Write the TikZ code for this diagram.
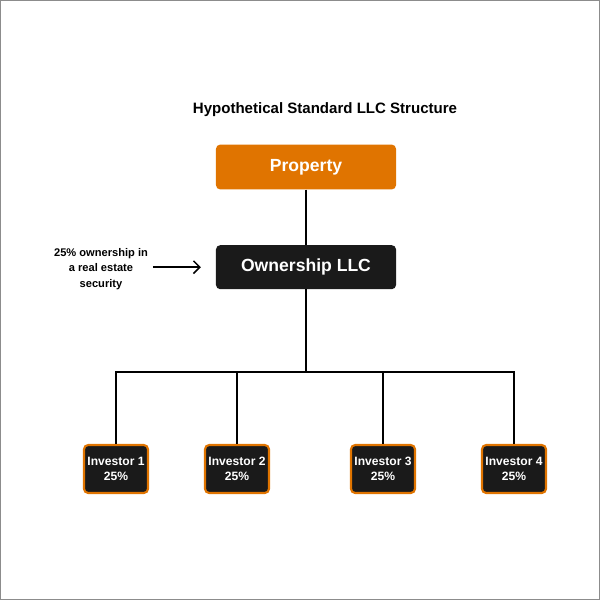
\documentclass[tikz,border=0pt]{standalone}
\usepackage{fontspec}
\setmainfont{Liberation Sans}
\usetikzlibrary{positioning,arrows.meta}
\definecolor{llcorange}{HTML}{E07400}
\definecolor{llcblack}{HTML}{1A1A1A}
\tikzset{>={Straight Barb[length=4.5pt,width=9pt]},
  titletext/.style={font=\fontsize{10.7}{13}\selectfont\bfseries},
  notetext/.style={font=\fontsize{7.9}{10.8}\selectfont\bfseries, align=center},
  propbox/.style={draw=none, fill=llcorange, rounded corners=3pt, minimum width=4.5cm, minimum height=1.12cm, text=white, font=\fontsize{12.5}{15}\selectfont\bfseries},
  llcbox/.style={draw=none, fill=llcblack, rounded corners=3pt, minimum width=4.5cm, minimum height=1.1cm, text=white, font=\fontsize{12.5}{15}\selectfont\bfseries},
  investorbox/.style={draw=llcorange, line width=1.5pt, fill=llcblack, rounded corners=3pt, minimum width=1.6cm, minimum height=1.2cm, inner sep=1pt, text=white, align=center, font=\fontsize{8.6}{10.6}\selectfont\bfseries},
  link/.style={line width=1pt}
}

\begin{document}
\begin{tikzpicture}[x=0.025cm, y=-0.025cm]
      \useasboundingbox (0,0) rectangle (600,600);
      \draw[gray!90, line width=1.2pt] (0,0) rectangle (600,600);
      \node[titletext] (title) at (325,110) {Hypothetical Standard LLC Structure};
      \node[propbox] (prop) at (306,167) {Property};
      \node[llcbox, below=0cm of prop.south, yshift=-1.38cm, anchor=north] (llc) {Ownership LLC};
      \node[notetext] (note) at (101,269) {25\% ownership in\\a real estate\\security};
      \coordinate (split) at (306,372);
      \node[investorbox] (inv1) at (116,469) {Investor 1\\25\%};
      \node[investorbox] (inv2) at (237,469) {Investor 2\\25\%};
      \node[investorbox] (inv3) at (383,469) {Investor 3\\25\%};
      \node[investorbox] (inv4) at (514,469) {Investor 4\\25\%};
      \draw[link] (prop) -- (llc);
      \draw[link] (llc) -- (split);
      \draw[link] (inv1.north) |- (split) -| (inv4.north);
      \draw[link] (inv2.north) -- (inv2.north |- split);
      \draw[link] (inv3.north) -- (inv3.north |- split);
      \draw[->, line width=1.1pt, shorten >=10.5pt] (note.east |- llc) -- (llc.west);
\end{tikzpicture}
\end{document}
